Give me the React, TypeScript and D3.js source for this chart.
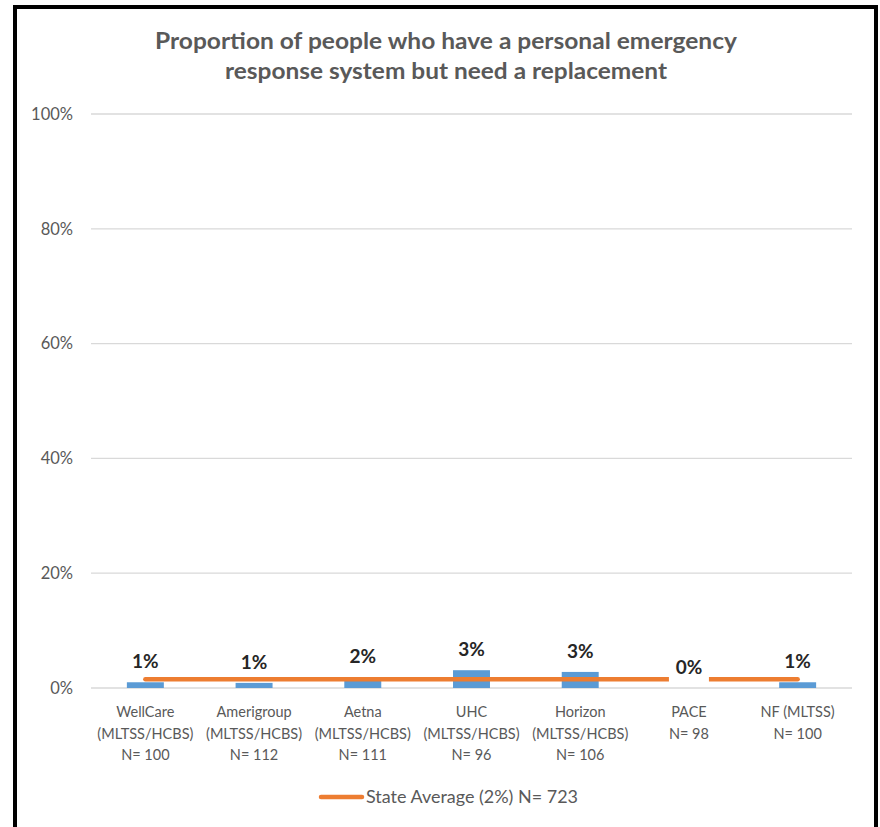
import React from "react";
import * as d3 from "d3";

const titleLines = [
  "Proportion of people who have a personal emergency",
  "response system but need a replacement",
];
const titleWidths = [582, 442];
const categories = ["WellCare", "Amerigroup", "Aetna", "UHC", "Horizon", "PACE", "NF"];
const categoryLabels = [
  ["WellCare", "(MLTSS/HCBS)", "N= 100"],
  ["Amerigroup", "(MLTSS/HCBS)", "N= 112"],
  ["Aetna", "(MLTSS/HCBS)", "N= 111"],
  ["UHC", "(MLTSS/HCBS)", "N= 96"],
  ["Horizon", "(MLTSS/HCBS)", "N= 106"],
  ["PACE", "N= 98"],
  ["NF (MLTSS)", "N= 100"],
];
const values = [0.01, 0.0089, 0.018, 0.031, 0.028, 0.0, 0.01];
const dataLabels = ["1%", "1%", "2%", "3%", "3%", "0%", "1%"];
const stateAverage = 0.0152;
const legendLabel = "State Average (2%) N= 723";
const yTicks = [0, 0.2, 0.4, 0.6, 0.8, 1.0];

const FONT = "Lato, 'Open Sans', sans-serif";

export default function App() {
  const W = 880;
  const H = 827;
  const x = d3
    .scaleBand<string>()
    .domain(categories)
    .range([91, 852])
    .paddingInner(0.66)
    .paddingOuter(0.33);
  const y = d3.scaleLinear().domain([0, 1]).range([688, 114]);
  const cx = (c: string) => (x(c) as number) + x.bandwidth() / 2;

  const line = d3
    .line<string>()
    .x((c) => cx(c))
    .y(() => y(stateAverage));

  return (
    <svg
      width={W}
      height={H}
      style={{ position: "absolute", left: 0, top: 0, background: "#fff" }}
      fontFamily={FONT}
    >
      <rect x={0} y={0} width={W} height={H} fill="#fff" />
      {/* outer border */}
      <rect x={15} y={7} width={861} height={H + 20} fill="none" stroke="#000" strokeWidth={4} />

      {/* title */}
      {titleLines.map((t, i) => (
        <text
          key={i}
          x={446}
          y={49 + i * 30}
          textAnchor="middle"
          fontSize={22}
          fontWeight={700}
          fill="#595959"
          textLength={titleWidths[i]}
          lengthAdjust="spacingAndGlyphs"
        >
          {t}
        </text>
      ))}

      {/* gridlines & y tick labels */}
      {yTicks.map((t) => (
        <g key={t}>
          <line x1={91} x2={852} y1={y(t)} y2={y(t)} stroke="#d9d9d9" strokeWidth={1.3} />
          <text
            x={73}
            y={y(t)}
            dy="0.35em"
            textAnchor="end"
            fontSize={16.5}
            fill="#595959"
          >
            {d3.format(".0%")(t)}
          </text>
        </g>
      ))}

      {/* bars */}
      {categories.map((c, i) => (
        <rect
          key={c}
          x={x(c)}
          y={y(values[i])}
          width={x.bandwidth()}
          height={y(0) - y(values[i])}
          fill="#5b9bd5"
        />
      ))}

      {/* state average line */}
      <path
        d={line(categories) || ""}
        fill="none"
        stroke="#ed7d31"
        strokeWidth={4.5}
        strokeLinecap="round"
      />

      {/* data labels */}
      {categories.map((c, i) => {
        const ly = y(values[i]) - 21;
        return (
          <g key={c}>
            <rect x={cx(c) - 20} y={ly - 15} width={40} height={30} fill="#fff" />
            <text
              x={cx(c)}
              y={ly}
              dy="0.35em"
              textAnchor="middle"
              fontSize={19}
              fontWeight={700}
              fill="#262626"
            >
              {dataLabels[i]}
            </text>
          </g>
        );
      })}

      {/* category labels */}
      {categories.map((c, i) => (
        <text key={c} textAnchor="middle" fontSize={14.5} fill="#595959">
          {categoryLabels[i].map((l, j) => (
            <tspan key={j} x={cx(c)} y={717 + j * 21.5}>
              {l}
            </tspan>
          ))}
        </text>
      ))}

      {/* legend */}
      <line
        x1={321}
        x2={362}
        y1={797}
        y2={797}
        stroke="#ed7d31"
        strokeWidth={4.5}
        strokeLinecap="round"
      />
      <text
        x={366}
        y={797}
        dy="0.35em"
        fontSize={16.5}
        fill="#595959"
        textLength={212}
        lengthAdjust="spacingAndGlyphs"
      >
        {legendLabel}
      </text>
    </svg>
  );
}
